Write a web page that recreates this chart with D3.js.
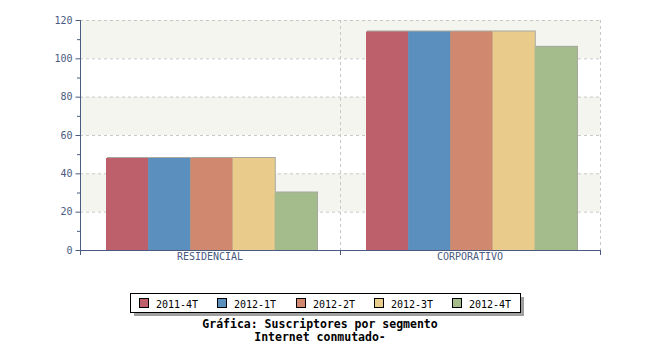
<!DOCTYPE html>
<html><head><meta charset="utf-8">
<script src="https://cdn.jsdelivr.net/npm/d3@7"></script>
<style>body{margin:0;background:#fff}svg{display:block}</style>
</head><body>
<svg id="c" width="650" height="350"></svg>
<script>
const categories = ["RESIDENCIAL", "CORPORATIVO"];
const seriesNames = ["2011-4T", "2012-1T", "2012-2T", "2012-3T", "2012-4T"];
const seriesValues = [
  [48, 114],
  [48, 114],
  [48, 114],
  [48, 114],
  [30, 106]
];
const colors = ["#be606b", "#5a8fbe", "#d0886e", "#e9cb8b", "#a4bc8c"];
const yTicks = [0, 20, 40, 60, 80, 100, 120];
const titleLines = ["Gráfica: Suscriptores por segmento", "Internet conmutado-"];

const svg = d3.select("#c");
const L = 80, R = 600, T = 20, B = 250;
const axisColor = "#4a5a80";
const font = "'DejaVu Sans Mono', monospace";

const y = d3.scaleLinear().domain([0, 120]).range([B, T]);
const x0 = d3.scaleBand().domain(categories).range([L, R]).paddingInner(0).paddingOuter(0);
const x1 = d3.scaleBand().domain(seriesNames).range([26, 26 + 211]);

// alternating bands
for (let i = 0; i < yTicks.length - 1; i++) {
  if (i % 2 === 1) {
    svg.append("rect").attr("x", L).attr("y", y(yTicks[i + 1]))
      .attr("width", R - L).attr("height", y(yTicks[i]) - y(yTicks[i + 1]))
      .attr("fill", "#f5f5f0");
  }
}
// grid
svg.append("g").selectAll("line").data(yTicks.slice(1)).join("line")
  .attr("x1", L).attr("x2", R).attr("y1", d => y(d) + 0.5).attr("y2", d => y(d) + 0.5)
  .attr("stroke", "#c8c8c8").attr("stroke-dasharray", "3,3");
svg.append("g").selectAll("line").data(categories).join("line")
  .attr("x1", d => x0(d) + x0.bandwidth() + 0.5).attr("x2", d => x0(d) + x0.bandwidth() + 0.5)
  .attr("y1", T).attr("y2", B)
  .attr("stroke", "#c8c8c8").attr("stroke-dasharray", "3,3");

// bars
const g = svg.append("g");
categories.forEach((cat, ci) => {
  seriesNames.forEach((s, si) => {
    const v = seriesValues[si][ci];
    const bx = x0(cat) + x1(s);
    g.append("rect").attr("x", bx + 1).attr("y", y(v) - 1)
      .attr("width", x1.bandwidth()).attr("height", B - y(v) + 1)
      .attr("fill", "#a8a8a0");
    g.append("rect").attr("x", bx).attr("y", y(v))
      .attr("width", x1.bandwidth()).attr("height", B - y(v))
      .attr("fill", colors[si]);
  });
});

// y axis
const yAxis = d3.axisLeft(y).tickValues(yTicks).tickSize(5).tickPadding(3);
const ya = svg.append("g").attr("transform", `translate(${L + 0.5},0)`).call(yAxis);
ya.selectAll("line").attr("stroke", axisColor);
ya.select(".domain").attr("stroke", axisColor).attr("d", `M0,${T}V${B}`);
ya.selectAll("text").attr("fill", axisColor).attr("font-family", font).attr("font-size", 10);
// minor ticks
svg.append("g").selectAll("line").data(d3.range(10, 120, 20)).join("line")
  .attr("x1", L - 3).attr("x2", L).attr("y1", d => y(d) + 0.5).attr("y2", d => y(d) + 0.5)
  .attr("stroke", axisColor);

// x axis
svg.append("line").attr("x1", L).attr("x2", R + 1).attr("y1", B + 0.5).attr("y2", B + 0.5).attr("stroke", axisColor);
svg.append("g").selectAll("line").data([L, x0(categories[1]), R]).join("line")
  .attr("x1", d => d + 0.5).attr("x2", d => d + 0.5).attr("y1", B).attr("y2", B + 5).attr("stroke", axisColor);
svg.append("g").selectAll("text").data(categories).join("text")
  .attr("x", d => x0(d) + x0.bandwidth() / 2).attr("y", B + 10)
  .attr("text-anchor", "middle").attr("fill", axisColor)
  .attr("font-family", font).attr("font-size", 10).text(d => d);

// legend
const lg = svg.append("g");
lg.append("rect").attr("x", 134).attr("y", 297).attr("width", 390).attr("height", 19).attr("fill", "#a0a0a0");
lg.append("rect").attr("x", 130.5).attr("y", 293.5).attr("width", 390).attr("height", 19)
  .attr("fill", "#fff").attr("stroke", "#000");
const lx = [139, 217, 296, 374, 452];
seriesNames.forEach((s, i) => {
  lg.append("rect").attr("x", lx[i] + 0.5).attr("y", 298.5).attr("width", 9).attr("height", 9)
    .attr("fill", colors[i]).attr("stroke", "#000");
  lg.append("text").attr("x", lx[i] + 17).attr("y", 307.5)
    .attr("font-family", font).attr("font-size", 10).attr("fill", "#000").text(s);
});

// title
titleLines.forEach((t, i) => {
  svg.append("text").attr("x", 320).attr("y", 328 + i * 13)
    .attr("text-anchor", "middle").attr("font-family", font).attr("font-weight", "bold")
    .attr("font-size", 11.5).attr("fill", "#000").text(t);
});
</script>
</body></html>
